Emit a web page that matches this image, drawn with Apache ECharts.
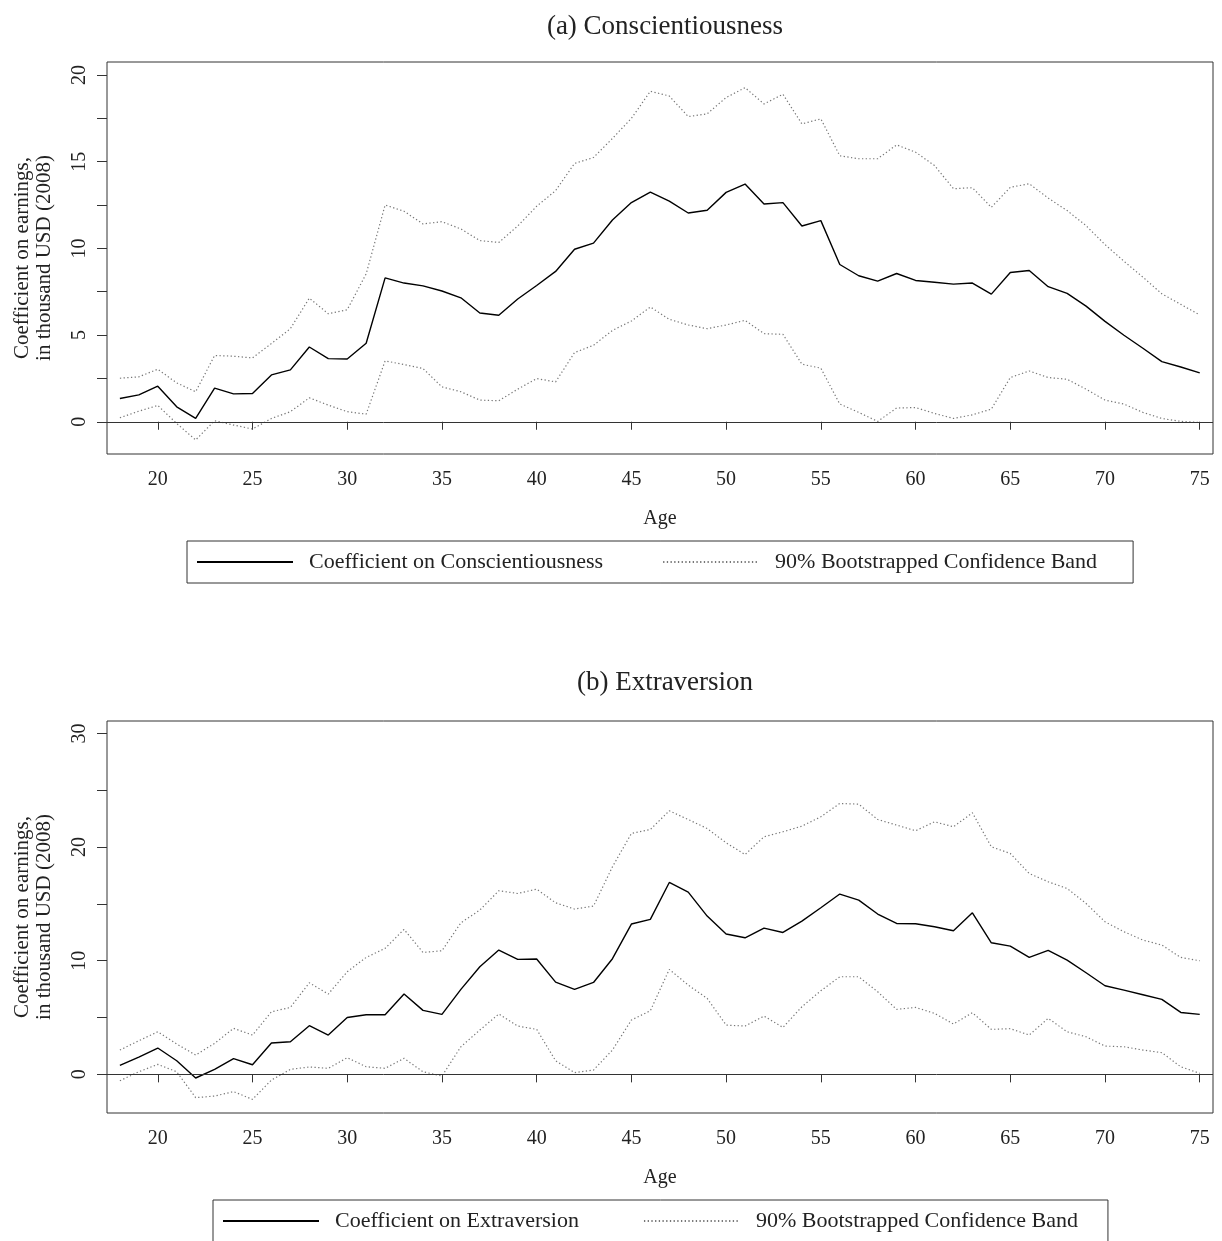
<!DOCTYPE html>
<html>
<head>
<meta charset="utf-8">
<title>Coefficients on earnings by age</title>
<script src="https://cdn.jsdelivr.net/npm/echarts@6/dist/echarts.min.js"></script>
<style>
  html, body { margin: 0; padding: 0; background: #fff; }
  #chart { width: 1222px; height: 1241px; }
</style>
</head>
<body>
<div id="chart"></div>
<script>
// ages 18..75
var ages = [];
for (var a = 18; a <= 75; a++) ages.push(a);

// (a) Conscientiousness, thousand USD (2008)
var consCoef = [1.34, 1.55, 2.05, 0.86, 0.19, 1.94, 1.61, 1.63, 2.70, 2.99,
  4.31, 3.64, 3.62, 4.53, 8.30, 8.00, 7.84, 7.54, 7.15, 6.27,
  6.14, 7.08, 7.86, 8.67, 9.95, 10.30, 11.64, 12.64, 13.25, 12.73,
  12.04, 12.20, 13.23, 13.71, 12.56, 12.64, 11.29, 11.60, 9.07, 8.42,
  8.11, 8.55, 8.15, 8.05, 7.94, 8.00, 7.36, 8.61, 8.72, 7.79,
  7.40, 6.67, 5.79, 4.99, 4.24, 3.47, 3.16, 2.82];
var consUpper = [2.51, 2.59, 3.03, 2.24, 1.73, 3.82, 3.78, 3.68, 4.51, 5.37,
  7.13, 6.23, 6.46, 8.53, 12.50, 12.14, 11.41, 11.54, 11.12, 10.45,
  10.34, 11.29, 12.43, 13.33, 14.90, 15.24, 16.34, 17.50, 19.06, 18.79,
  17.60, 17.76, 18.70, 19.27, 18.33, 18.89, 17.18, 17.47, 15.34, 15.17,
  15.17, 15.97, 15.55, 14.78, 13.44, 13.50, 12.37, 13.52, 13.73, 12.90,
  12.18, 11.31, 10.22, 9.26, 8.34, 7.38, 6.77, 6.16];
var consLower = [0.23, 0.61, 0.94, -0.10, -1.05, 0.06, -0.19, -0.42, 0.19, 0.58,
  1.38, 0.96, 0.58, 0.44, 3.51, 3.30, 3.07, 2.01, 1.73, 1.25,
  1.21, 1.88, 2.49, 2.30, 3.99, 4.41, 5.27, 5.81, 6.62, 5.91,
  5.58, 5.37, 5.58, 5.85, 5.08, 5.04, 3.32, 3.09, 1.02, 0.54,
  0.02, 0.79, 0.82, 0.48, 0.19, 0.40, 0.73, 2.55, 2.93, 2.55,
  2.45, 1.88, 1.25, 1.02, 0.54, 0.19, 0.02, -0.04];

// (b) Extraversion
var extCoef = [0.79, 1.52, 2.32, 1.20, -0.32, 0.44, 1.38, 0.85, 2.76, 2.87,
  4.28, 3.46, 5.01, 5.25, 5.25, 7.07, 5.63, 5.28, 7.48, 9.47,
  10.94, 10.12, 10.15, 8.12, 7.48, 8.09, 10.18, 13.23, 13.64, 16.89,
  16.04, 13.93, 12.35, 12.02, 12.87, 12.49, 13.49, 14.66, 15.87, 15.34,
  14.11, 13.28, 13.26, 12.99, 12.64, 14.22, 11.58, 11.29, 10.29, 10.91,
  10.06, 8.94, 7.80, 7.42, 7.01, 6.60, 5.45, 5.28];
var extUpper = [2.14, 2.96, 3.75, 2.67, 1.70, 2.73, 4.05, 3.46, 5.51, 5.89,
  8.06, 7.07, 9.03, 10.29, 11.09, 12.76, 10.73, 10.88, 13.34, 14.46,
  16.16, 15.92, 16.30, 15.10, 14.55, 14.81, 18.27, 21.20, 21.55, 23.20,
  22.43, 21.64, 20.38, 19.35, 20.91, 21.35, 21.85, 22.67, 23.84, 23.78,
  22.43, 21.94, 21.44, 22.23, 21.79, 23.02, 20.03, 19.44, 17.68, 16.95,
  16.36, 15.04, 13.43, 12.55, 11.82, 11.38, 10.29, 10.00];
var extLower = [-0.56, 0.23, 0.88, 0.23, -2.05, -1.91, -1.52, -2.20, -0.50, 0.44,
  0.65, 0.53, 1.47, 0.67, 0.53, 1.41, 0.23, -0.15, 2.43, 3.90,
  5.31, 4.25, 3.96, 1.20, 0.15, 0.38, 2.14, 4.78, 5.60, 9.24,
  7.86, 6.69, 4.34, 4.25, 5.13, 4.13, 5.95, 7.36, 8.59, 8.59,
  7.27, 5.72, 5.89, 5.37, 4.43, 5.43, 3.96, 4.02, 3.46, 4.93,
  3.75, 3.31, 2.49, 2.43, 2.14, 1.91, 0.67, 0.09];

var ageTicks = [20, 25, 30, 35, 40, 45, 50, 55, 60, 65, 70, 75];
var consYTicks = [0, 2.5, 5, 7.5, 10, 12.5, 15, 17.5, 20];
var consYLabels = [0, 5, 10, 15, 20];
var extYTicks = [0, 5, 10, 15, 20, 25, 30];
var extYLabels = [0, 10, 20, 30];

var titles = ['(a) Conscientiousness', '(b) Extraversion'];
var coefNames = ['Coefficient on Conscientiousness', 'Coefficient on Extraversion'];
var bandName = '90% Bootstrapped Confidence Band';

var FONT = '"Liberation Serif", "DejaVu Serif", serif';
var INK = '#222';

function pairs(ys) {
  return ages.map(function (x, i) { return [x, ys[i]]; });
}

function xAxisFor(gridIndex) {
  return {
    type: 'value', gridIndex: gridIndex, min: 17.32, max: 75.70,
    name: 'Age', nameLocation: 'middle', nameGap: 55,
    nameTextStyle: { fontFamily: FONT, fontSize: 20, color: INK },
    axisLine: { show: false },
    axisTick: { show: true, inside: false, length: 8, customValues: ageTicks, lineStyle: { color: '#333' } },
    axisLabel: { customValues: ageTicks, margin: 16, fontFamily: FONT, fontSize: 20, color: INK },
    splitLine: { show: false }
  };
}

function yAxisFor(gridIndex, min, max, ticks, labels) {
  return {
    type: 'value', gridIndex: gridIndex, min: min, max: max,
    name: 'Coefficient on earnings,\nin thousand USD (2008)', nameLocation: 'middle', nameGap: 52,
    nameRotate: 90,
    nameTextStyle: { fontFamily: FONT, fontSize: 21, lineHeight: 22, color: INK },
    axisLine: { show: false },
    axisTick: { show: true, length: 10, customValues: ticks, lineStyle: { color: '#333' } },
    axisLabel: { customValues: labels, rotate: 90, margin: 17, fontFamily: FONT, fontSize: 20, color: INK },
    splitLine: { show: false }
  };
}

function seriesFor(idx, coef, upper, lower) {
  var base = { type: 'line', xAxisIndex: idx, yAxisIndex: idx, showSymbol: false, symbol: 'none', animation: false, z: 3 };
  var band = { color: '#777', width: 1.2, type: [1.3, 2.4] };
  return [
    Object.assign({}, base, {
      name: coefNames[idx], data: pairs(coef), z: 4,
      lineStyle: { color: '#000', width: 1.4 }, itemStyle: { color: '#000' },
      markLine: {
        silent: true, symbol: 'none', label: { show: false },
        lineStyle: { color: '#333', width: 1, type: 'solid' },
        data: [{ yAxis: 0 }]
      }
    }),
    Object.assign({}, base, { name: bandName, data: pairs(upper), lineStyle: band, itemStyle: { color: '#777' } }),
    Object.assign({}, base, { name: bandName, data: pairs(lower), lineStyle: band, itemStyle: { color: '#777' } })
  ];
}

function legendFor(idx, left, top, gap, padRight) {
  return {
    left: left, top: top, orient: 'horizontal',
    data: [coefNames[idx], bandName],
    itemWidth: 96, itemHeight: 12, itemGap: gap,
    // line only, no marker dot
    itemStyle: { opacity: 0 },
    lineStyle: { opacity: 1 },
    borderColor: '#333', borderWidth: 1, padding: [10, padRight, 10, 9],
    selectedMode: false,
    textStyle: { fontFamily: FONT, fontSize: 22, color: INK, padding: [0, 0, 0, 11] }
  };
}

var chart = echarts.init(document.getElementById('chart'), null, { renderer: 'canvas' });

var option = {
  backgroundColor: '#fff',
  animation: false,
  title: [
    { text: titles[0], left: 660, top: 8, textAlign: 'center',
      textStyle: { fontFamily: FONT, fontSize: 27, fontWeight: 'normal', color: INK } },
    { text: titles[1], left: 660, top: 664, textAlign: 'center',
      textStyle: { fontFamily: FONT, fontSize: 27, fontWeight: 'normal', color: INK } }
  ],
  grid: [
    { left: 107, top: 62, width: 1106, height: 392, show: true, borderColor: '#333', borderWidth: 1,
      containLabel: false, outerBoundsMode: 'none' },
    { left: 107, top: 721, width: 1106, height: 392, show: true, borderColor: '#333', borderWidth: 1,
      containLabel: false, outerBoundsMode: 'none' }
  ],
  legend: [legendFor(0, 187, 541, 59, 36), legendFor(1, 213, 1200, 64, 30)],
  xAxis: [xAxisFor(0), xAxisFor(1)],
  yAxis: [
    yAxisFor(0, -1.86, 20.75, consYTicks, consYLabels),
    yAxisFor(1, -3.4, 31.1, extYTicks, extYLabels)
  ],
  series: seriesFor(0, consCoef, consUpper, consLower)
    .concat(seriesFor(1, extCoef, extUpper, extLower))
};

chart.setOption(option);
</script>
</body>
</html>
